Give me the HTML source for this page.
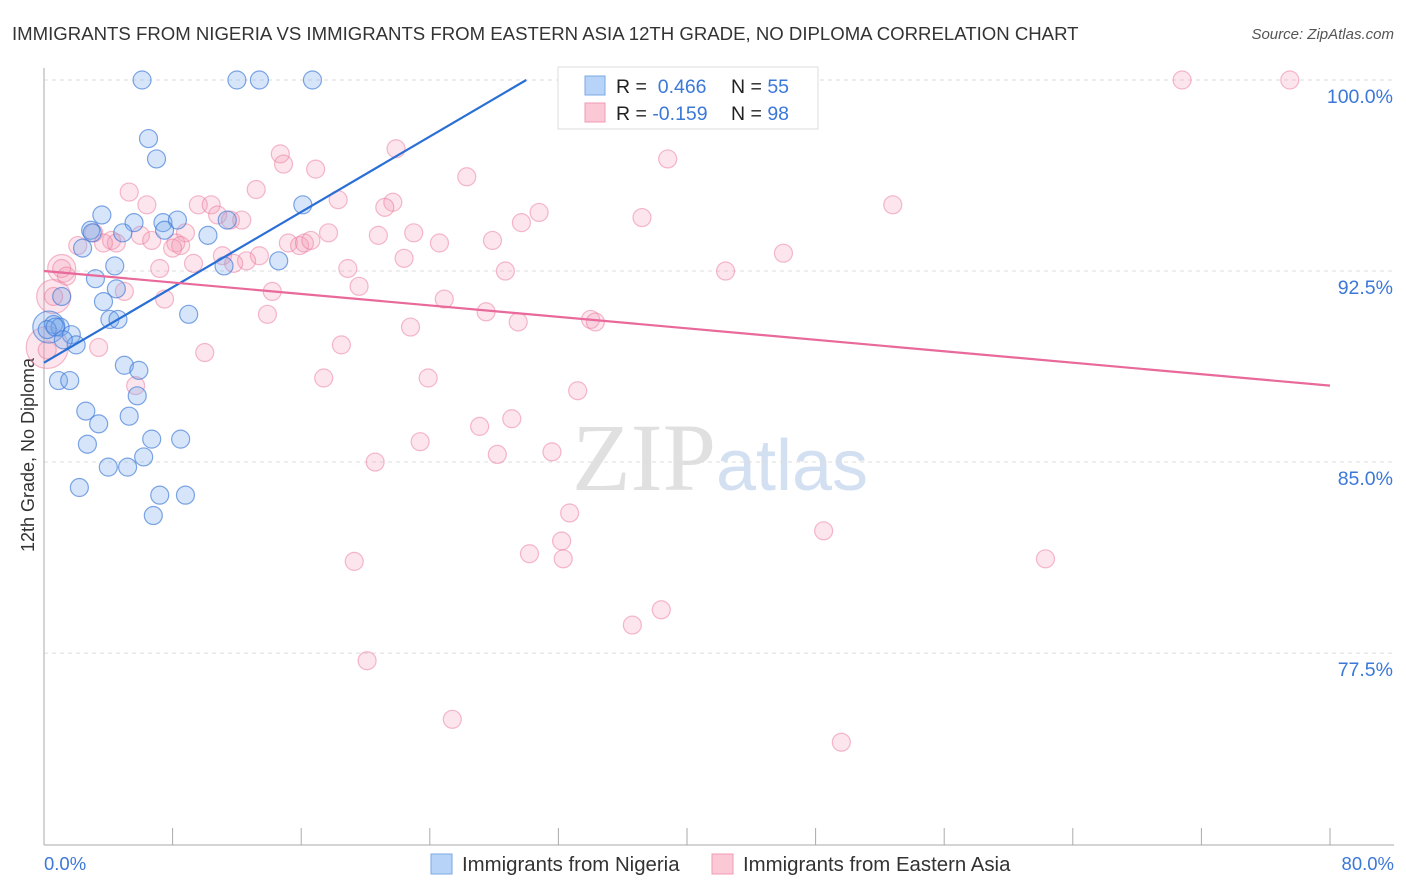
<!DOCTYPE html>
<html><head><meta charset="utf-8"><style>
body{margin:0;background:#fff;font-family:"Liberation Sans",sans-serif;}
#wrap{position:relative;width:1406px;height:892px;overflow:hidden}
</style></head><body>
<div id="wrap">
<svg id="svg" width="1406" height="892" xmlns="http://www.w3.org/2000/svg">
<text x="12" y="40" font-size="18.6" fill="#333">IMMIGRANTS FROM NIGERIA VS IMMIGRANTS FROM EASTERN ASIA 12TH GRADE, NO DIPLOMA CORRELATION CHART</text>
<text x="1394" y="39" font-size="15" fill="#555" font-style="italic" text-anchor="end">Source: ZipAtlas.com</text>
<text x="720" y="490" font-size="96" fill="#e0e0e0" text-anchor="middle" font-family="Liberation Serif,serif">ZIP<tspan fill="#d3e0f2" font-family="Liberation Sans,sans-serif" font-size="72">atlas</tspan></text>
<text transform="translate(34,455) rotate(-90)" font-size="18" fill="#333" text-anchor="middle">12th Grade, No Diploma</text>
<g id="grid"></g><g id="pts"></g><g id="lines"></g>
<g>
<rect x="558" y="67" width="260" height="62" fill="#fff" stroke="#ddd"/>
<rect x="585" y="76" width="20" height="19" fill="#b7d3f7" stroke="#7aaae6"/>
<rect x="585" y="103" width="20" height="19" fill="#fbc8d6" stroke="#f09ab2"/>
<text x="616" y="93" font-size="19.5" fill="#222">R = <tspan fill="#3b78d8">&#160;0.466</tspan></text>
<text x="731" y="93" font-size="19.5" fill="#222">N = <tspan fill="#3b78d8">55</tspan></text>
<text x="616" y="120" font-size="19.5" fill="#222">R = <tspan fill="#3b78d8">-0.159</tspan></text>
<text x="731" y="120" font-size="19.5" fill="#222">N = <tspan fill="#3b78d8">98</tspan></text>
</g>
<g>
<rect x="431" y="854" width="21" height="20" fill="#b7d3f7" stroke="#7aaae6"/>
<text x="462" y="871" font-size="20.4" fill="#333">Immigrants from Nigeria</text>
<rect x="712" y="854" width="21" height="20" fill="#fbc8d6" stroke="#f09ab2"/>
<text x="743" y="871" font-size="20.4" fill="#333">Immigrants from Eastern Asia</text>
</g>
<text x="44" y="870" font-size="18.5" fill="#3b78d8">0.0%</text>
<text x="1394" y="870" font-size="18.5" fill="#3b78d8" text-anchor="end">80.0%</text>
</svg></div>
<script>
const yTicks=[100,92.5,85,77.5];
const yTickLabels=["100.0%","92.5%","85.0%","77.5%"];
const xTicks=[0,8,16,24,32,40,48,56,64,72,80];
const blueX=[6.1,12.0,13.4,16.7,6.5,7.0,3.6,5.6,7.4,8.3,7.5,2.9,3.0,4.9,10.2,11.4,2.4,4.4,11.2,14.6,16.1,3.2,3.7,4.5,4.1,4.6,9.0,1.1,0.6,1.0,0.2,0.7,1.7,2.0,1.2,5.0,5.9,0.9,1.6,5.8,2.6,5.3,3.4,2.7,6.7,8.5,6.2,4.0,5.2,2.2,7.2,8.8,6.8,35.8];
const blueY=[100,100,100,100,97.7,96.9,94.7,94.4,94.4,94.5,94.1,94.1,94.0,94.0,93.9,94.5,93.4,92.7,92.7,92.9,95.1,92.2,91.3,91.8,90.6,90.6,90.8,91.5,90.4,90.3,90.2,90.3,90.0,89.6,89.8,88.8,88.6,88.2,88.2,87.6,87.0,86.8,86.5,85.7,85.9,85.9,85.2,84.8,84.8,84.0,83.7,83.7,82.9,100];
const pinkX=[70.8,77.5,37.8,43.1,38.8,21.9,14.7,14.9,16.9,26.3,5.3,13.2,52.8,18.3,21.7,21.2,6.4,9.6,10.4,10.8,11.6,12.3,30.8,29.7,37.2,8.8,3.1,4.2,4.5,2.1,3.7,6.0,6.7,8.2,8.5,8.0,11.1,13.4,12.6,11.8,9.3,7.2,15.2,15.9,16.2,16.6,17.7,20.8,23.0,24.6,27.9,46.0,22.4,42.4,28.7,18.9,19.6,14.2,7.5,5.0,1.1,1.4,0.6,0.2,24.9,27.5,22.8,29.5,34.0,34.3,13.9,18.5,10.0,3.4,5.7,17.4,23.9,33.2,29.1,27.1,23.4,28.2,31.6,20.6,32.7,48.5,32.2,30.2,32.3,62.3,19.3,38.4,36.6,20.1,25.4,49.6];
const pinkY=[100,100,100,100,96.9,97.3,97.1,96.7,96.5,96.2,95.6,95.7,95.1,95.3,95.2,95.0,95.1,95.1,95.1,94.7,94.5,94.5,94.8,94.4,94.6,94.0,94.0,93.7,93.6,93.5,93.6,93.9,93.7,93.6,93.5,93.4,93.1,93.1,92.9,92.8,92.8,92.6,93.6,93.5,93.6,93.7,94.0,93.9,94.0,93.6,93.7,93.2,93.0,92.5,92.5,92.6,91.9,91.7,91.4,91.7,92.6,92.3,91.5,89.4,91.4,90.9,90.3,90.5,90.6,90.5,90.8,89.6,89.3,89.5,88.0,88.3,88.3,87.8,86.7,86.4,85.8,85.3,85.4,85.0,83.0,82.3,81.9,81.4,81.2,81.2,81.1,79.2,78.6,77.2,74.9,74.0];
const bigBlue=[[0.3,90.3,16]];
const bigPink=[[0.2,89.5,21],[0.6,91.5,17],[1.1,92.6,14]];
const blueLine=[[0,88.9],[30.0,100]];
const pinkLine=[[0,92.5],[80,88.0]];
const X=v=>44+v*16.075, Y=v=>80+(100-v)*25.47;
const NS="http://www.w3.org/2000/svg";
function mk(t,a,p){const e=document.createElementNS(NS,t);for(const k in a)e.setAttribute(k,a[k]);p.appendChild(e);return e;}
const grid=document.getElementById('grid'),pts=document.getElementById('pts'),lines=document.getElementById('lines');
yTicks.forEach((v,i)=>{
 const l=mk('line',{x1:44,x2:1394,y1:Y(v),y2:Y(v),stroke:'#ddd','stroke-dasharray':'4,4'},grid);
 
 
 const t=mk('text',{x:1393,y:Y(v)+23,'font-size':19.5,fill:'#3b78d8','text-anchor':'end'},grid);
 t.textContent=yTickLabels[i];
 
 
});
const ax=mk('line',{x1:44,x2:44,y1:68,y2:845,stroke:'#aaa'},grid);


const bx=mk('line',{x1:44,x2:1394,y1:845,y2:845,stroke:'#aaa'},grid);


xTicks.forEach(v=>{
 const t=mk('line',{x1:X(v),x2:X(v),y1:828,y2:845,stroke:'#aaa'},grid);
 
 
});
function dot(x,y,r,blue){
 const c=mk('circle',{cx:X(x),cy:Y(y),r:r,fill:blue?'rgba(120,170,235,0.3)':'rgba(245,150,180,0.25)',stroke:blue?'rgba(60,120,215,0.65)':'rgba(235,120,155,0.5)','stroke-width':1.2},pts);
 
 
}
bigPink.forEach(p=>dot(p[0],p[1],p[2],false));
pinkX.forEach((x,i)=>dot(x,pinkY[i],9,false));
bigBlue.forEach(p=>dot(p[0],p[1],p[2],true));
blueX.forEach((x,i)=>dot(x,blueY[i],9,true));
const bl=mk('line',{x1:X(blueLine[0][0]),y1:Y(blueLine[0][1]),x2:X(blueLine[1][0]),y2:Y(blueLine[1][1]),stroke:'#2a6fd6','stroke-width':2.2},lines);


const pl=mk('line',{x1:X(pinkLine[0][0]),y1:Y(pinkLine[0][1]),x2:X(pinkLine[1][0]),y2:Y(pinkLine[1][1]),stroke:'#e8699a','stroke-width':2.2},lines);


</script>
</body></html>
